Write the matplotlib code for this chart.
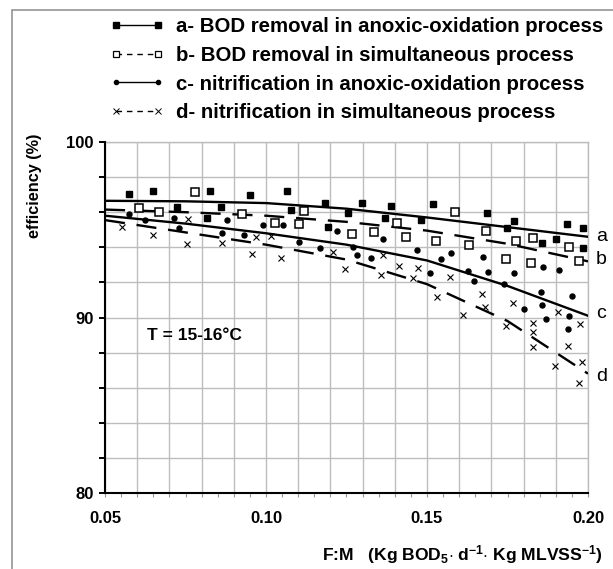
import matplotlib
matplotlib.use('Agg')
import matplotlib.pyplot as plt
from matplotlib.lines import Line2D
from matplotlib.patches import Rectangle
from matplotlib.ticker import MultipleLocator, FuncFormatter

plt.rcParams['font.family'] = ['Liberation Sans', 'DejaVu Sans']
plt.rcParams['mathtext.fontset'] = 'custom'
plt.rcParams['mathtext.rm'] = 'Liberation Sans:bold'
plt.rcParams['mathtext.default'] = 'rm'

# a- BOD removal, anoxic-oxidation (filled squares)
a_x = [0.0575, 0.0649, 0.0724, 0.0817, 0.0826, 0.0860, 0.0950, 0.1065, 0.1078, 0.1183,
       0.1193, 0.1255, 0.1298, 0.1370, 0.1388, 0.1481, 0.1519, 0.1686, 0.1748, 0.1770,
       0.1857, 0.1901, 0.1935, 0.1984, 0.1984]
a_y = [97.04, 97.21, 96.30, 95.67, 97.21, 96.30, 96.98, 97.21, 96.13, 96.52,
       95.16, 95.95, 96.52, 95.67, 96.35, 95.56, 96.47, 95.95, 95.10, 95.50,
       94.25, 94.47, 95.33, 95.10, 93.96]

# b- BOD removal, simultaneous (open squares)
b_x = [0.0606, 0.0668, 0.0780, 0.0925, 0.1028, 0.1118, 0.1102, 0.1267, 0.1335, 0.1407,
       0.1435, 0.1528, 0.1587, 0.1630, 0.1683, 0.1745, 0.1776, 0.1823, 0.1829, 0.1941,
       0.1972]
b_y = [96.24, 96.01, 97.15, 95.90, 95.38, 96.07, 95.33, 94.76, 94.87, 95.38,
       94.59, 94.36, 96.01, 94.13, 94.93, 93.33, 94.36, 93.11, 94.53, 94.02,
       93.22]

# c- nitrification, anoxic-oxidation (dots)
c_x = [0.0575, 0.0624, 0.0714, 0.0730, 0.0863, 0.0879, 0.0932, 0.0991, 0.1053, 0.1102,
       0.1168, 0.1221, 0.1270, 0.1283, 0.1326, 0.1363, 0.1469, 0.1509, 0.1543, 0.1575,
       0.1627, 0.1646, 0.1674, 0.1689, 0.1739, 0.1770, 0.1801, 0.1854, 0.1857, 0.1860,
       0.1870, 0.1910, 0.1941, 0.1938, 0.1950]
c_y = [95.90, 95.56, 95.67, 95.10, 94.81, 95.56, 94.70, 95.27, 95.27, 94.30,
       93.96, 94.93, 94.02, 93.56, 93.39, 94.47, 93.85, 92.54, 93.33, 93.68,
       92.65, 92.08, 93.45, 92.59, 91.91, 92.54, 90.48, 91.45, 90.71, 92.88,
       89.91, 92.71, 90.09, 89.34, 91.23]

# d- nitrification, simultaneous (crosses)
d_x = [0.0553, 0.0649, 0.0758, 0.0755, 0.0863, 0.0957, 0.0969, 0.1016, 0.1047, 0.1208,
       0.1245, 0.1357, 0.1363, 0.1413, 0.1457, 0.1472, 0.1531, 0.1571, 0.1612, 0.1671,
       0.1680, 0.1745, 0.1767, 0.1829, 0.1829, 0.1829, 0.1898, 0.1907, 0.1938, 0.1975,
       0.1981, 0.1972]
d_y = [95.16, 94.70, 95.61, 94.19, 94.25, 93.62, 94.59, 94.64, 93.39, 93.73,
       92.76, 92.42, 93.56, 92.93, 92.25, 92.82, 91.17, 92.31, 90.14, 91.34,
       90.60, 89.52, 90.83, 89.69, 89.17, 88.32, 87.24, 90.31, 88.38, 89.63,
       87.46, 86.27]

# fitted curves
fit_x = [0.05, 0.075, 0.10, 0.125, 0.15, 0.175, 0.20]
fit_a = [96.65, 96.62, 96.52, 96.20, 95.70, 95.15, 94.60]
fit_b = [96.15, 96.00, 95.80, 95.45, 94.95, 94.20, 93.20]
fit_c = [95.80, 95.35, 94.80, 94.15, 93.25, 91.80, 90.10]
fit_d = [95.55, 94.85, 94.15, 93.30, 91.90, 89.80, 86.80]

curve_names = ['a', 'b', 'c', 'd']
curve_label_y = [94.6, 93.3, 90.25, 86.65]

labels = ['a- BOD removal in anoxic-oxidation process',
          'b- BOD removal in simultaneous process',
          'c- nitrification in anoxic-oxidation process',
          'd- nitrification in simultaneous process']

fig = plt.figure(figsize=(6.13, 5.69), dpi=100)
ax = fig.add_axes([105 / 613, 76 / 569, 483 / 613, 351 / 569])

dash = (8.5, 5)
ax.plot(fit_x, fit_a, color='black', lw=1.7, zorder=3)
ax.plot(fit_x, fit_b, color='black', lw=1.7, dashes=dash, zorder=3)
ax.plot(fit_x, fit_c, color='black', lw=1.7, zorder=3)
ax.plot(fit_x, fit_d, color='black', lw=1.7, dashes=dash, zorder=3)

ax.plot(a_x, a_y, ls='none', marker='s', ms=4.8, color='black', zorder=4)
ax.plot(b_x, b_y, ls='none', marker='s', ms=5.6, mfc='white', mec='black', mew=1.1, zorder=4)
ax.plot(c_x, c_y, ls='none', marker='o', ms=3.6, color='black', zorder=4)
ax.plot(d_x, d_y, ls='none', marker='x', ms=4.3, mew=0.8, color='black', zorder=4)

ax.set_xlim(0.05, 0.20)
ax.set_ylim(80, 100)

ax.xaxis.set_major_locator(MultipleLocator(0.01))
ax.xaxis.set_minor_locator(MultipleLocator(0.005))
ax.xaxis.set_major_formatter(FuncFormatter(
    lambda v, p: '%.2f' % v if abs(round(v * 20) - v * 20) < 1e-6 else ''))
ax.yaxis.set_major_locator(MultipleLocator(2))
ax.yaxis.set_major_formatter(FuncFormatter(
    lambda v, p: '%d' % round(v) if abs(v % 10) < 1e-6 or abs(v % 10 - 10) < 1e-6 else ''))

ax.tick_params(axis='x', which='both', direction='out', length=3, width=0.8,
               color='#999999', labelsize=12, pad=10)
ax.tick_params(axis='y', which='major', direction='out', length=4, width=1.4,
               color='black', labelsize=12, pad=4)
for t in ax.get_xticklabels() + ax.get_yticklabels():
    t.set_fontweight('bold')

ax.grid(True, which='major', color='#bdbdbd', lw=1.0)
ax.set_axisbelow(True)
for s in ['top', 'right']:
    ax.spines[s].set_visible(False)
for s in ['left', 'bottom']:
    ax.spines[s].set_linewidth(1.5)
    ax.spines[s].set_zorder(5)

# grid lines at the upper and right edges
ax.axhline(100, color='#bdbdbd', lw=1.0, clip_on=False, zorder=0)
ax.axvline(0.20, color='#bdbdbd', lw=1.0, clip_on=False, zorder=0)

for name, yy in zip(curve_names, curve_label_y):
    ax.text(0.2025, yy, name, fontsize=14, va='center', ha='left', clip_on=False)

ax.text(0.0630, 89.0, 'T = 15-16°C', fontsize=12.5, fontweight='bold', va='center')

fig.text(35 / 613, 1 - 186 / 569, 'efficiency (%)', rotation=90, fontsize=11.7,
         fontweight='bold', ha='center', va='center')
fig.text(603 / 613, 1 - 555 / 569,
         r'F:M   (Kg BOD$_5$$\cdot$ d$^{-1}$$\cdot$ Kg MLVSS$^{-1}$)',
         fontsize=12.6, fontweight='bold', ha='right', va='center')

handles = [
    Line2D([], [], color='black', lw=1.0, marker='s', ms=4.0),
    Line2D([], [], color='black', lw=1.0, dashes=(4, 3.5), marker='s', ms=5.0,
           mfc='white', mew=0.9),
    Line2D([], [], color='black', lw=1.0, marker='o', ms=3.0),
    Line2D([], [], color='black', lw=1.0, dashes=(4, 3.5), marker='x', ms=4.0, mew=0.7),
]
leg = fig.legend(handles, labels, loc='upper left', bbox_to_anchor=(110 / 613, 1 - 17 / 569),
                 frameon=False, numpoints=2, handlelength=2.65, handletextpad=0.6,
                 labelspacing=0.48, borderpad=0, borderaxespad=0,
                 prop={'weight': 'bold', 'size': 14.7})

fig.patches.append(Rectangle((12 / 613, -0.1), 1.2, 1 - 10 / 569 + 0.1,
                             transform=fig.transFigure, fill=False,
                             edgecolor='#8c8c8c', lw=1.1))

fig.savefig('out.png', dpi=100)
